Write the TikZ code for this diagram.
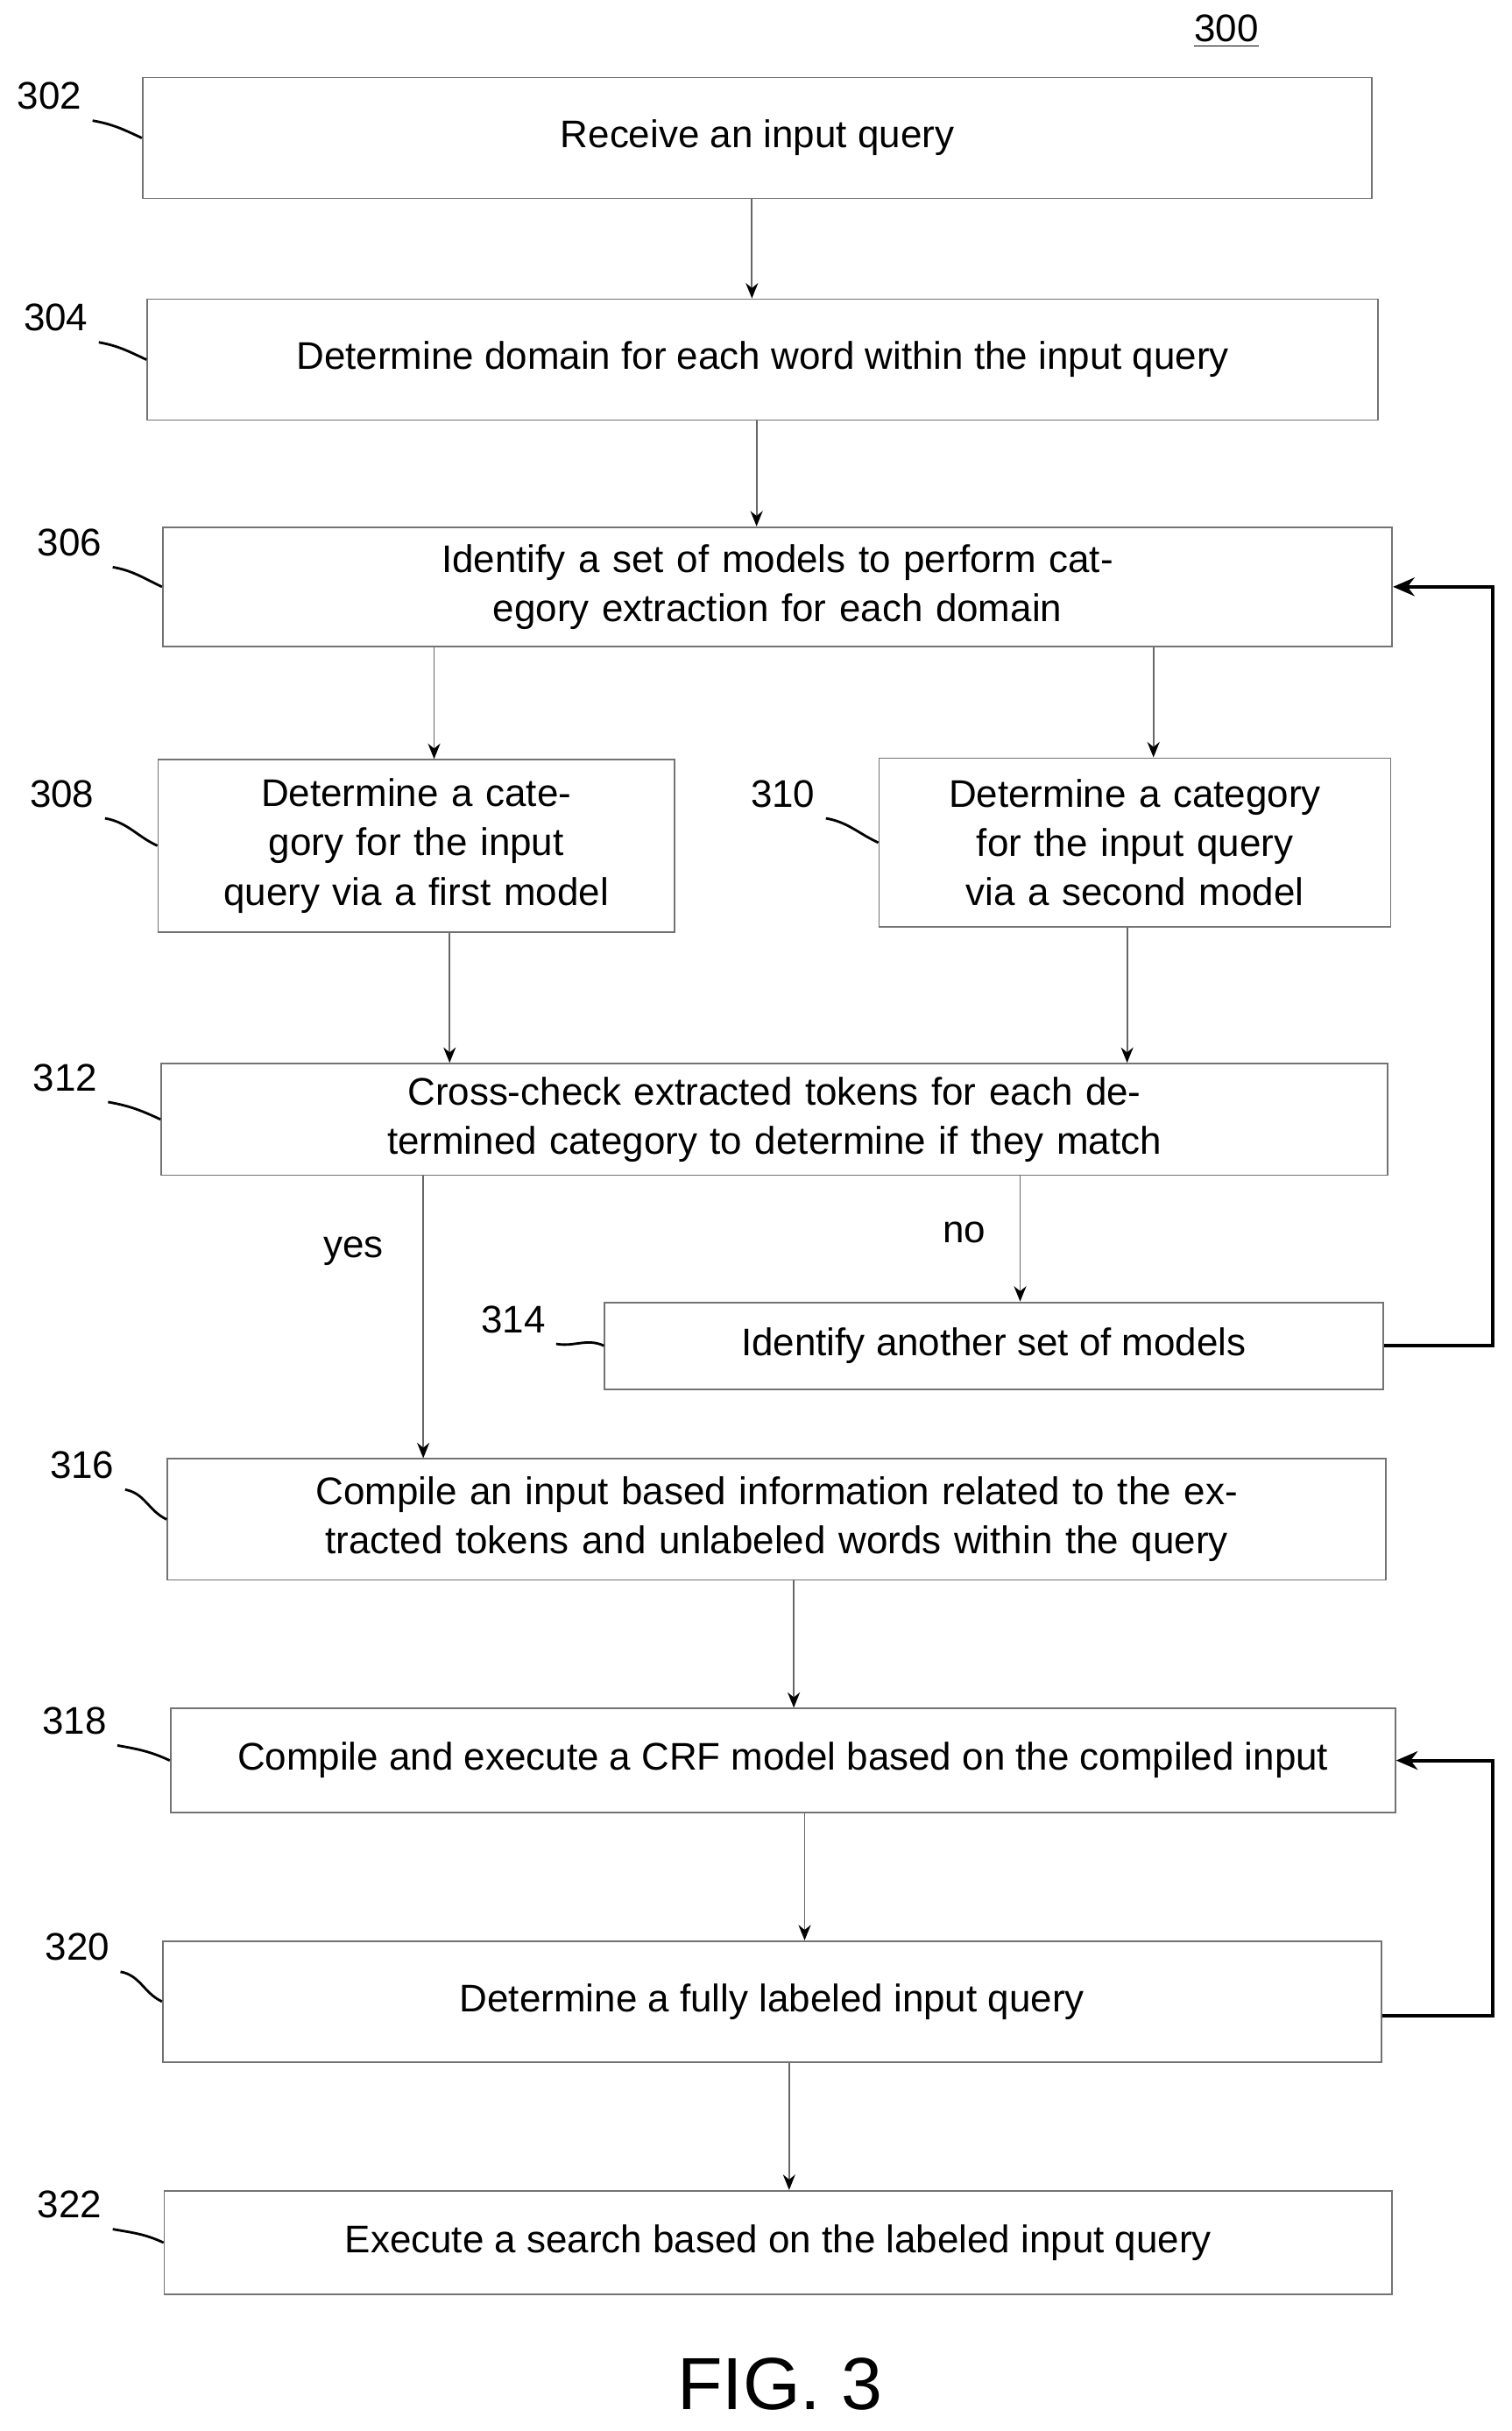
\documentclass[tikz,border=0pt]{standalone}
\usepackage{fontspec}
\setmainfont{Liberation Sans}
\usetikzlibrary{arrows.meta}
\begin{document}
\begin{tikzpicture}[x=0.0177cm,y=-0.0177cm,
	box/.style={rectangle, draw=black!55, line width=0.5pt, align=center, inner sep=2pt, font=\fontsize{12.5}{16}\selectfont},
	flow/.style={draw=black!60, line width=0.5pt, -{Stealth[length=5pt,width=4pt,black]}},
	back/.style={draw=black, line width=1.1pt, -{Stealth[length=7pt,width=6pt]}},
	num/.style={font=\fontsize{12.5}{14}\selectfont},
	lead/.style={draw=black, line width=0.8pt}]
	\useasboundingbox (0,0) rectangle (975,1568);

	% Boxes
	\node[box, minimum width=793*0.0177cm, minimum height=78*0.0177cm] (n302) at (488.5,89) {Receive an input query};
	\node[box, minimum width=794*0.0177cm, minimum height=78*0.0177cm] (n304) at (492,232) {Determine domain for each word within the input query};
	\node[box, minimum width=793*0.0177cm, minimum height=77*0.0177cm, text width=760*0.0177cm] (n306) at (501.5,378.5) {Identify a set of models to perform category extraction for each domain};
	\node[box, minimum width=333*0.0177cm, minimum height=111*0.0177cm, text width=310*0.0177cm] (n308) at (268.5,545.5) {Determine a category for the input query via a first model};
	\node[box, minimum width=330*0.0177cm, minimum height=109*0.0177cm, text width=310*0.0177cm] (n310) at (732,543.5) {Determine a category for the input query via a second model};
	\node[box, minimum width=791*0.0177cm, minimum height=72*0.0177cm, text width=760*0.0177cm] (n312) at (499.5,722) {Cross-check extracted tokens for each determined category to determine if they match};
	\node[box, minimum width=502*0.0177cm, minimum height=56*0.0177cm] (n314) at (641,868) {Identify another set of models};
	\node[box, minimum width=786*0.0177cm, minimum height=78*0.0177cm, text width=760*0.0177cm] (n316) at (501,980) {Compile an input based information related to the extracted tokens and unlabeled words within the query};
	\node[box, minimum width=790*0.0177cm, minimum height=67*0.0177cm] (n318) at (505,1135.5) {Compile and execute a CRF model based on the compiled input};
	\node[box, minimum width=786*0.0177cm, minimum height=78*0.0177cm] (n320) at (498,1291) {Determine a fully labeled input query};
	\node[box, minimum width=792*0.0177cm, minimum height=67*0.0177cm] (n322) at (502,1446.5) {Execute a search based on the labeled input query};

	% Reference numerals
	\node[num] (l300) at (791,20) {\underline{300}};
	\node[num] (l302) at (32,62) {302};
	\node[num] (l304) at (36,205) {304};
	\node[num] (l306) at (45,350) {306};
	\node[num] (l308) at (40,512) {308};
	\node[num] (l310) at (505,512) {310};
	\node[num] (l312) at (42,695) {312};
	\node[num] (l314) at (331,851) {314};
	\node[num] (l316) at (53,945) {316};
	\node[num] (l318) at (48,1110) {318};
	\node[num] (l320) at (50,1256) {320};
	\node[num] (l322) at (45,1422) {322};
	\foreach \n in {302,304,306,308,310,312,314,316,318,320,322}
		\draw[lead] (l\n.south east) to[out=-10,in=155] (n\n.west);

	% Flow
	\draw[flow] (n302.south -| 485,0) -- (n304.north -| 485,0);
	\draw[flow] (n304.south -| 488,0) -- (n306.north -| 488,0);
	\draw[flow] (n306.south -| 280,0) -- (n308.north -| 280,0);
	\draw[flow] (n306.south -| 744,0) -- (n310.north -| 744,0);
	\draw[flow] (n308.south -| 290,0) -- (n312.north -| 290,0);
	\draw[flow] (n310.south -| 727,0) -- (n312.north -| 727,0);
	\draw[flow] (n312.south -| 273,0) -- (n316.north -| 273,0);
	\draw[flow] (n312.south -| 658,0) -- (n314.north -| 658,0);
	\node[num] (yes) at (228,807) {yes};
	\node[num] (no) at (622,795) {no};
	\draw[flow] (n316.south -| 512,0) -- (n318.north -| 512,0);
	\draw[flow] (n318.south -| 519,0) -- (n320.north -| 519,0);
	\draw[flow] (n320.south -| 509,0) -- (n322.north -| 509,0);

	% Loops back
	\draw[back] (n314.east) -- (963,868) |- (n306.east);
	\draw[back] (n320.east |- 0,1300) -- (963,1300) |- (n318.east);

	\node[font=\fontsize{24}{28}\selectfont] (fig) at (503,1538) {FIG. 3};
\end{tikzpicture}
\end{document}
